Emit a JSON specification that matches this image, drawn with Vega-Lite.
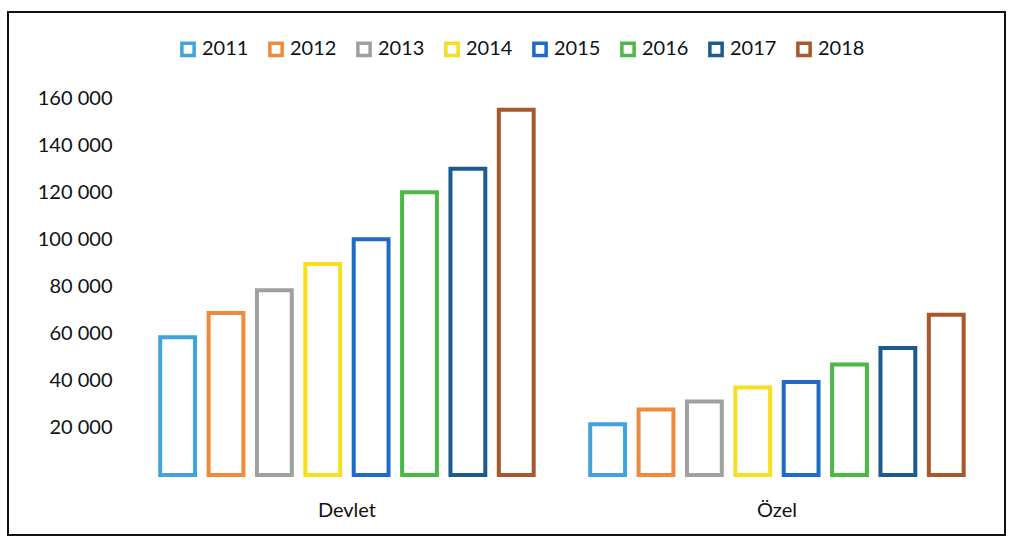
{
  "$schema": "https://vega.github.io/schema/vega-lite/v6.json",
  "autosize": "none",
  "width": 997,
  "height": 523,
  "padding": {"left": 8, "top": 12, "right": 10, "bottom": 7},
  "background": "white",
  "config": {
    "view": {"stroke": "#111111", "strokeWidth": 2},
    "font": "Lato"
  },
  "data": {
    "values": [
      {"tur": "Devlet", "yil": "2011", "deger": 58500},
      {"tur": "Devlet", "yil": "2012", "deger": 68700},
      {"tur": "Devlet", "yil": "2013", "deger": 78400},
      {"tur": "Devlet", "yil": "2014", "deger": 89500},
      {"tur": "Devlet", "yil": "2015", "deger": 100000},
      {"tur": "Devlet", "yil": "2016", "deger": 120000},
      {"tur": "Devlet", "yil": "2017", "deger": 130000},
      {"tur": "Devlet", "yil": "2018", "deger": 155000},
      {"tur": "Özel", "yil": "2011", "deger": 21500},
      {"tur": "Özel", "yil": "2012", "deger": 27800},
      {"tur": "Özel", "yil": "2013", "deger": 31200},
      {"tur": "Özel", "yil": "2014", "deger": 37100},
      {"tur": "Özel", "yil": "2015", "deger": 39500},
      {"tur": "Özel", "yil": "2016", "deger": 46900},
      {"tur": "Özel", "yil": "2017", "deger": 53900},
      {"tur": "Özel", "yil": "2018", "deger": 68000}
    ]
  },
  "mark": {"type": "bar", "filled": false, "strokeWidth": 4},
  "encoding": {
    "x": {
      "field": "tur",
      "type": "nominal",
      "sort": ["Devlet", "Özel"],
      "scale": {"paddingInner": 0.1, "paddingOuter": 0.2093, "align": 0.808},
      "axis": {
        "title": null,
        "orient": "bottom",
        "offset": -60,
        "domain": false,
        "ticks": false,
        "labelAngle": 0,
        "labelPadding": 25,
        "labelFontSize": 20,
        "labelColor": "#111111",
        "labelFont": "Lato"
      }
    },
    "xOffset": {
      "field": "yil",
      "type": "nominal",
      "scale": {"paddingInner": 0.28, "paddingOuter": 0.14}
    },
    "y": {
      "field": "deger",
      "type": "quantitative",
      "scale": {"domain": [-25470, 196500], "nice": false, "zero": false},
      "axis": {
        "title": null,
        "values": [20000, 40000, 60000, 80000, 100000, 120000, 140000, 160000],
        "labelExpr": "replace(format(datum.value, ','), ',', ' ')",
        "offset": -104,
        "labelPadding": 0,
        "domain": false,
        "ticks": false,
        "grid": false,
        "labelFontSize": 20,
        "labelColor": "#111111",
        "labelFont": "Lato"
      }
    },
    "y2": {"datum": 0},
    "color": {
      "field": "yil",
      "type": "nominal",
      "scale": {
        "domain": ["2011", "2012", "2013", "2014", "2015", "2016", "2017", "2018"],
        "range": ["#41A3DD", "#F08A3C", "#A0A0A0", "#F5DF1E", "#1E6CC8", "#4DB848", "#1D5A8E", "#A8582C"]
      },
      "legend": {
        "title": null,
        "orient": "none",
        "direction": "horizontal",
        "columns": 8,
        "legendX": 170,
        "legendY": 27,
        "symbolType": "square",
        "symbolSize": 150,
        "symbolStrokeWidth": 3.5,
        "symbolFillColor": "white",
        "labelFontSize": 20,
        "labelFont": "Lato",
        "labelColor": "#111111",
        "labelOffset": 4,
        "columnPadding": 13
      }
    }
  }
}
